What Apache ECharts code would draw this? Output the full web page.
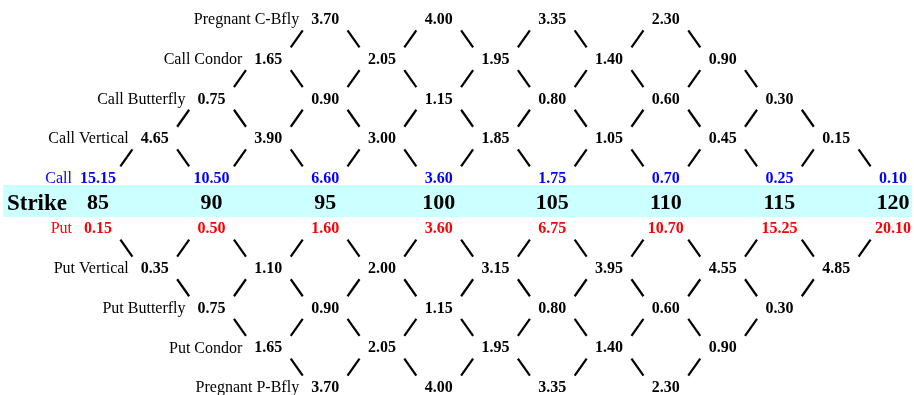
<!DOCTYPE html>
<html>
<head>
<meta charset="utf-8">
<script src="https://cdn.jsdelivr.net/npm/echarts@6/dist/echarts.min.js"></script>
<style>html,body{margin:0;padding:0;background:#fff}#c{width:914px;height:395px}</style>
</head>
<body>
<div id="c"></div>
<script>
// ---- data ----
var strikes = [85, 90, 95, 100, 105, 110, 115, 120];
var callPrices = [15.15, 10.50, 6.60, 3.60, 1.75, 0.70, 0.25, 0.10];
var putPrices = [0.15, 0.50, 1.60, 3.60, 6.75, 10.70, 15.25, 20.10];
var callVertical = [4.65, 3.90, 3.00, 1.85, 1.05, 0.45, 0.15];
var callButterfly = [0.75, 0.90, 1.15, 0.80, 0.60, 0.30];
var callCondor = [1.65, 2.05, 1.95, 1.40, 0.90];
var pregnantCBfly = [3.70, 4.00, 3.35, 2.30];
var putVertical = [0.35, 1.10, 2.00, 3.15, 3.95, 4.55, 4.85];
var putButterfly = [0.75, 0.90, 1.15, 0.80, 0.60, 0.30];
var putCondor = [1.65, 2.05, 1.95, 1.40, 0.90];
var pregnantPBfly = [3.70, 4.00, 3.35, 2.30];
var rowNames = ['Pregnant C-Bfly', 'Call Condor', 'Call Butterfly', 'Call Vertical', 'Call', 'Strike',
                'Put', 'Put Vertical', 'Put Butterfly', 'Put Condor', 'Pregnant P-Bfly'];

// ---- layout ----
var FONT = '"Liberation Serif", "Times New Roman", serif';
var BLUE = '#0000FF', RED = '#FF0000', BLACK = '#000000';
var levels = { pc: 0, cc: 1, cb: 2, cv: 3, call: 4, strike: 4.63, put: 5.27, pv: 6.27, pb: 7.27, pcd: 8.27, pp: 9.27 };

function atStrikes(vals, start) {
  return vals.map(function (v, i) { return strikes[i + start]; });
}
function atMids(vals, start) {
  return vals.map(function (v, i) { return (strikes[i + start] + strikes[i + start + 1]) / 2; });
}

var rows = [
  { name: rowNames[0], vals: pregnantCBfly, xs: atStrikes(pregnantCBfly, 2), lv: levels.pc, color: BLACK },
  { name: rowNames[1], vals: callCondor, xs: atMids(callCondor, 1), lv: levels.cc, color: BLACK },
  { name: rowNames[2], vals: callButterfly, xs: atStrikes(callButterfly, 1), lv: levels.cb, color: BLACK },
  { name: rowNames[3], vals: callVertical, xs: atMids(callVertical, 0), lv: levels.cv, color: BLACK },
  { name: rowNames[4], vals: callPrices, xs: atStrikes(callPrices, 0), lv: levels.call, color: BLUE },
  { name: rowNames[6], vals: putPrices, xs: atStrikes(putPrices, 0), lv: levels.put, color: RED },
  { name: rowNames[7], vals: putVertical, xs: atMids(putVertical, 0), lv: levels.pv, color: BLACK },
  { name: rowNames[8], vals: putButterfly, xs: atStrikes(putButterfly, 1), lv: levels.pb, color: BLACK },
  { name: rowNames[9], vals: putCondor, xs: atMids(putCondor, 1), lv: levels.pcd, color: BLACK },
  { name: rowNames[10], vals: pregnantPBfly, xs: atStrikes(pregnantPBfly, 2), lv: levels.pp, color: BLACK }
];

function lbl(extra) {
  var o = { show: true, fontFamily: FONT, opacity: 1, textBorderWidth: 0, textShadowBlur: 0,
            formatter: function (p) { return p.data[2]; } };
  for (var k in extra) o[k] = extra[k];
  return o;
}

var series = [];

// strike band + strike numbers
series.push({
  type: 'scatter', symbolSize: 0, silent: true, z: 3,
  itemStyle: { opacity: 1 },
  data: strikes.map(function (s) { return [s, levels.strike, String(s)]; }),
  label: lbl({ position: 'inside', fontWeight: 'bold', fontSize: 22, color: BLACK }),
  markArea: { silent: true, itemStyle: { color: '#CCFFFF', opacity: 1 },
              data: [[{ yAxis: 4.156 }, { yAxis: 4.962 }]] }
});
series.push({
  type: 'scatter', symbolSize: 0, silent: true, z: 3,
  data: [[strikes[0], levels.strike, rowNames[5]]],
  label: lbl({ position: 'left', distance: 31, fontWeight: 'bold', fontSize: 23, color: BLACK })
});

var segs = [];
rows.forEach(function (r) {
  series.push({
    type: 'scatter', symbolSize: 0, silent: true, z: 3,
    data: r.vals.map(function (v, i) { return [r.xs[i], r.lv, v.toFixed(2)]; }),
    label: lbl({ position: 'inside', fontWeight: 'bold', fontSize: 16, color: r.color })
  });
  series.push({
    type: 'scatter', symbolSize: 0, silent: true, z: 3,
    data: [[r.xs[0], r.lv, r.name]],
    label: lbl({ position: 'left', distance: 26, fontWeight: 'normal', fontSize: 16, color: r.color })
  });
});

// connector segments between adjacent rows (derived from the row structure)
function connect(a, b) {
  a.xs.forEach(function (xa) {
    b.xs.forEach(function (xb) {
      if (Math.abs(Math.abs(xa - xb) - 2.5) < 1e-6) segs.push([xa, a.lv, xb, b.lv]);
    });
  });
}
connect(rows[0], rows[1]); connect(rows[1], rows[2]); connect(rows[2], rows[3]); connect(rows[3], rows[4]);
connect(rows[5], rows[6]); connect(rows[6], rows[7]); connect(rows[7], rows[8]); connect(rows[8], rows[9]);

series.push({
  type: 'custom', silent: true, z: 2,
  encode: { x: [0, 2], y: [1, 3] },
  data: segs,
  renderItem: function (params, api) {
    var a = api.coord([api.value(0), api.value(1)]);
    var b = api.coord([api.value(2), api.value(3)]);
    var cx = (a[0] + b[0]) / 2, cy = (a[1] + b[1]) / 2 - 1;
    var s = ((b[0] - a[0]) * (b[1] - a[1]) > 0) ? 1 : -1;
    return { type: 'line',
             shape: { x1: cx - 6 * s, y1: cy - 8.5, x2: cx + 6 * s, y2: cy + 8.5 },
             style: { stroke: BLACK, lineWidth: 2.2 } };
  }
});

var chart = echarts.init(document.getElementById('c'));
chart.setOption({
  animation: false,
  backgroundColor: '#ffffff',
  textStyle: { color: BLACK },
  grid: { left: 3, right: 2, top: 20, bottom: 7 },
  xAxis: { type: 'value', min: 80.818, max: 120.8365, show: false },
  yAxis: { type: 'value', inverse: true, min: 0, max: levels.pp, show: false },
  series: series
});
</script>
</body>
</html>
